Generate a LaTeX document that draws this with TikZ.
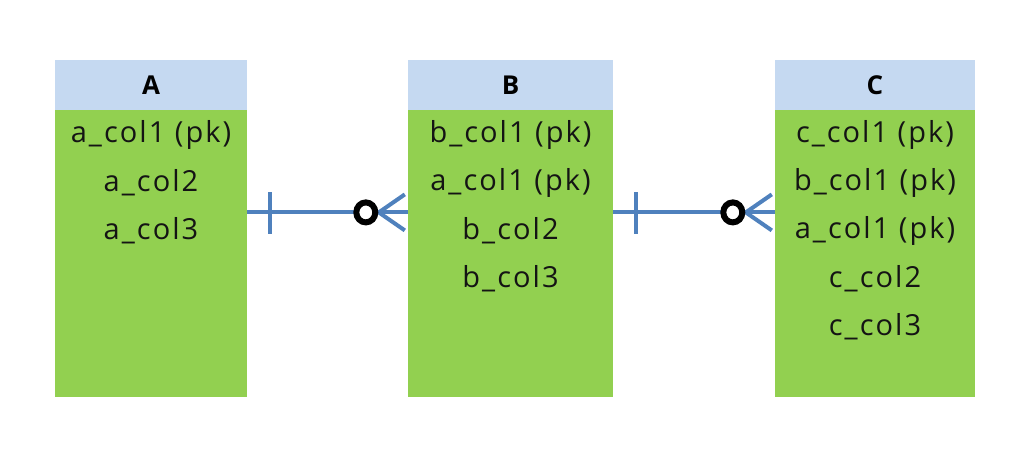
\documentclass[tikz,border=0pt]{standalone}
\usepackage{fontspec}
\setmainfont{Open Sans}
\usetikzlibrary{positioning,calc}
\definecolor{erdHeadFill}{HTML}{C5D9F1}
\definecolor{erdBodyFill}{HTML}{92D050}
\definecolor{erdLinkLine}{HTML}{4F81BD}
\definecolor{erdText}{HTML}{141414}

\tikzset{
  headbox/.style={fill=erdHeadFill, minimum height=50pt, inner sep=0pt,
    font=\fontsize{26}{30}\selectfont\bfseries, text=black},
  bodybox/.style={fill=erdBodyFill, minimum height=287pt, inner sep=0pt},
  rowtext/.style={font=\addfontfeatures{LetterSpace=7}\fontsize{29}{34}\selectfont,
    text=erdText, inner sep=0pt},
  linkline/.style={draw=erdLinkLine, line width=4pt},
  ringline/.style={draw=black, line width=6pt, fill=white}
}

% one-to-many link: bar at the "one" end, ring + crow's foot at the "many" end
\newcommand\erLink[2]{%
  \draw[linkline] (#1) -- (#2);
  \draw[linkline] ($(#1)+(23,-20)$) -- ($(#1)+(23,22)$);
  \draw[linkline] ($(#2)+(-29,0)$) -- ($(#2)+(-3,-18)$);
  \draw[linkline] ($(#2)+(-29,0)$) -- ($(#2)+(-3,18)$);
  \draw[ringline] ($(#2)+(-42,0)$) circle[x radius=9.5pt, y radius=10pt];
}

\begin{document}
\begin{tikzpicture}[x=1pt, y=-1pt]
\useasboundingbox (0,0) rectangle (1032,450);

% --- TABLE A ---
\node[headbox, minimum width=192pt] (A) at (151,85) {A};
\node[bodybox, minimum width=192pt, below=0pt of A] (Abody) {};
\foreach [count=\i] \lab in {{a\_col1 (pk)}, {a\_col2}, {a\_col3}} {
  \node[rowtext] (a\i) at (151, 87+48*\i) {\lab};
}

% --- TABLE B ---
\node[headbox, minimum width=205pt] (B) at (510.5,85) {B};
\node[bodybox, minimum width=205pt, below=0pt of B] (Bbody) {};
\foreach [count=\i] \lab in {{b\_col1 (pk)}, {a\_col1 (pk)}, {b\_col2}, {b\_col3}} {
  \node[rowtext] (b\i) at (510.5, 87+48*\i) {\lab};
}

% --- TABLE C ---
\node[headbox, minimum width=200pt] (C) at (875,85) {C};
\node[bodybox, minimum width=200pt, below=0pt of C] (Cbody) {};
\foreach [count=\i] \lab in {{c\_col1 (pk)}, {b\_col1 (pk)}, {a\_col1 (pk)}, {c\_col2}, {c\_col3}} {
  \node[rowtext] (c\i) at (875, 87+48*\i) {\lab};
}

% --- LINKS (at y = 212) ---
\coordinate (aOut) at ([yshift=41.5pt]Abody.east);
\coordinate (bIn)  at ([yshift=41.5pt]Bbody.west);
\coordinate (bOut) at ([yshift=41.5pt]Bbody.east);
\coordinate (cIn)  at ([yshift=41.5pt]Cbody.west);
\erLink{aOut}{bIn}
\erLink{bOut}{cIn}

\end{tikzpicture}
\end{document}
